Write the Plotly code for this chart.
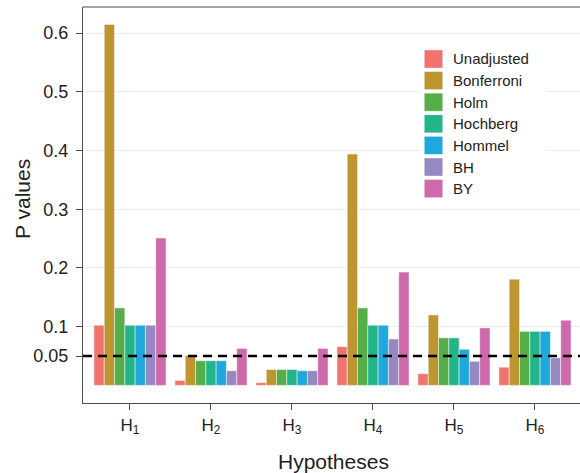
import plotly.graph_objects as go

hypotheses = ["H<sub>1</sub>", "H<sub>2</sub>", "H<sub>3</sub>", "H<sub>4</sub>", "H<sub>5</sub>", "H<sub>6</sub>"]
methods = ["Unadjusted", "Bonferroni", "Holm", "Hochberg", "Hommel", "BH", "BY"]
colors = ["#F0736E", "#BE9630", "#55AE47", "#22B58A", "#1EA8DC", "#9688C2", "#CE69AB"]

unadjusted = [0.1025, 0.0085, 0.0046, 0.066, 0.020, 0.031]
bonferroni = [0.615, 0.051, 0.027, 0.394, 0.120, 0.181]
holm = [0.132, 0.042, 0.027, 0.132, 0.081, 0.092]
hochberg = [0.1025, 0.042, 0.027, 0.1025, 0.081, 0.092]
hommel = [0.1025, 0.042, 0.025, 0.1025, 0.0615, 0.092]
bh = [0.1025, 0.025, 0.025, 0.079, 0.041, 0.047]
by = [0.251, 0.063, 0.063, 0.193, 0.098, 0.111]
series = [unadjusted, bonferroni, holm, hochberg, hommel, bh, by]

threshold = 0.05
y_ticks = [0.05, 0.1, 0.2, 0.3, 0.4, 0.5, 0.6]
y_ticktext = ["0.05", "0.1", "0.2", "0.3", "0.4", "0.5", "0.6"]

FONT = "Liberation Sans, Arial, Helvetica, sans-serif"
TXT = "#222222"
AX = "#4d4d4d"

W, H = 580, 473
ML, MR, MT, MB = 83, 0, 7, 70
PW, PH = W - ML - MR, H - MT - MB


def px_x(px):
    return (px - ML) / PW


def px_y(py):
    return (H - MB - py) / PH


fig = go.Figure()
xpos = list(range(len(hypotheses)))
for name, col, vals in zip(methods, colors, series):
    fig.add_trace(go.Bar(
        x=xpos, y=vals, name=name,
        marker=dict(color=col, line=dict(color="rgba(255,255,255,0.8)", width=0.6)),
    ))

fig.add_shape(type="line", xref="paper", yref="y", x0=0, x1=1, y0=threshold, y1=threshold,
              line=dict(color="black", width=2.5, dash="9px,6px"))
fig.add_shape(type="line", xref="paper", yref="paper", x0=0, x1=1, y0=1, y1=1,
              line=dict(color=AX, width=1.2))

# legend (drawn manually to match key size)
fig.add_shape(type="rect", xref="paper", yref="paper", layer="above",
              x0=px_x(420), x1=px_x(546), y0=px_y(203), y1=px_y(44),
              line=dict(width=0), fillcolor="white")
for i, (name, col) in enumerate(zip(methods, colors)):
    top = 50 + i * 21.6
    fig.add_shape(type="rect", xref="paper", yref="paper", layer="above",
                  x0=px_x(424.3), x1=px_x(442.7), y0=px_y(top + 18), y1=px_y(top),
                  line=dict(color="rgba(255,255,255,0.6)", width=0.6), fillcolor=col)
    fig.add_annotation(xref="paper", yref="paper", x=px_x(451), y=px_y(top + 9),
                       xanchor="left", yanchor="middle", text=name, showarrow=False,
                       font=dict(size=15, color=TXT, family=FONT))

# axis titles
fig.add_annotation(xref="paper", yref="paper", x=px_x(22), y=px_y(199), text="P values",
                   textangle=-90, showarrow=False, xanchor="center", yanchor="middle",
                   font=dict(size=21, color=TXT, family=FONT))
fig.add_annotation(xref="paper", yref="paper", x=px_x(333), y=px_y(461), text="Hypotheses",
                   showarrow=False, xanchor="center", yanchor="middle",
                   font=dict(size=21, color=TXT, family=FONT))

fig.update_layout(
    width=W, height=H,
    margin=dict(l=ML, r=MR, t=MT, b=MB),
    paper_bgcolor="white", plot_bgcolor="white",
    barmode="group", bargap=0.11, bargroupgap=0,
    font=dict(family=FONT, color=TXT),
    showlegend=False,
    xaxis=dict(
        range=[-0.58, 5.556], automargin=False,
        tickmode="array", tickvals=xpos, ticktext=hypotheses,
        showgrid=False, zeroline=False,
        showline=True, linecolor=AX, linewidth=1.2,
        ticks="outside", ticklen=6, tickcolor=AX,
        tickfont=dict(size=17, color=TXT),
    ),
    yaxis=dict(
        range=[-0.03, 0.6446], automargin=False,
        tickmode="array", tickvals=y_ticks, ticktext=y_ticktext,
        showgrid=True, gridcolor="#EBEBEB", gridwidth=1.2, zeroline=False,
        showline=True, linecolor=AX, linewidth=1.2,
        ticks="outside", ticklen=6, tickcolor=AX, ticklabelstandoff=4,
        tickfont=dict(size=18, color=TXT),
    ),
)

fig.write_html("out.html", config={"displayModeBar": False},
               post_script="document.body.style.margin='0px';")
